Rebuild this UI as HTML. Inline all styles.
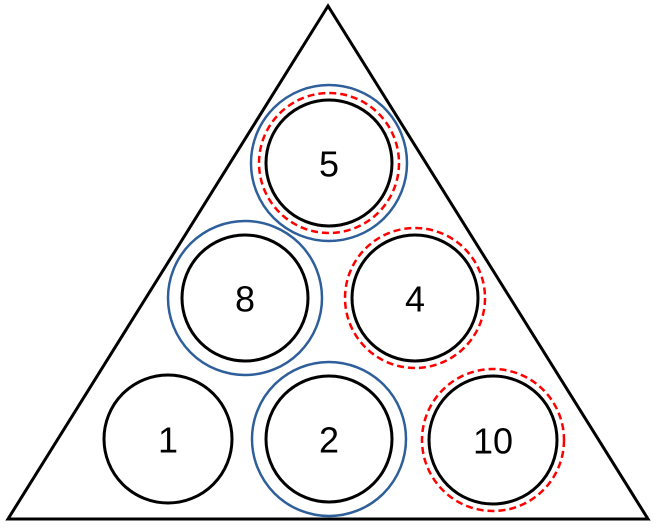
<!DOCTYPE html>
<html>
<head>
<meta charset="utf-8">
<style>
  html,body{margin:0;padding:0;background:#fff;}
  svg{display:block;}
  text{font-family:"Liberation Sans",sans-serif;font-size:36px;text-anchor:middle;dominant-baseline:central;fill:#000;}
</style>
</head>
<body>
<svg width="663" height="528" viewBox="0 0 663 528">
  <polygon points="328,6 8,519 648,519" fill="none" stroke="#000" stroke-width="3" stroke-linejoin="miter"/>

  <g>
    <circle cx="329" cy="163" r="78" fill="none" stroke="#2e5f9a" stroke-width="2.5"/>
    <circle cx="329" cy="163" r="70" fill="none" stroke="#f00" stroke-width="2.5" stroke-dasharray="7,4"/>
    <circle cx="329" cy="163" r="63" fill="none" stroke="#000" stroke-width="3"/>
    <text x="329" y="164">5</text>
  </g>

  <g>
    <circle cx="245" cy="298" r="77" fill="none" stroke="#2e5f9a" stroke-width="2.5"/>
    <circle cx="245" cy="298" r="63" fill="none" stroke="#000" stroke-width="3"/>
    <text x="245" y="299">8</text>
  </g>

  <g>
    <circle cx="415" cy="298" r="70" fill="none" stroke="#f00" stroke-width="2.5" stroke-dasharray="7,4"/>
    <circle cx="415" cy="298" r="63" fill="none" stroke="#000" stroke-width="3"/>
    <text x="415" y="299">4</text>
  </g>

  <g>
    <circle cx="168" cy="439" r="64" fill="none" stroke="#000" stroke-width="3"/>
    <text x="168" y="440">1</text>
  </g>

  <g>
    <circle cx="329" cy="439" r="77" fill="none" stroke="#2e5f9a" stroke-width="2.5"/>
    <circle cx="329" cy="439" r="63" fill="none" stroke="#000" stroke-width="3"/>
    <text x="329" y="440">2</text>
  </g>

  <g>
    <circle cx="493" cy="440" r="71" fill="none" stroke="#f00" stroke-width="2.5" stroke-dasharray="7,4"/>
    <circle cx="493" cy="440" r="64" fill="none" stroke="#000" stroke-width="3"/>
    <text x="493" y="441">10</text>
  </g>
</svg>
</body>
</html>
